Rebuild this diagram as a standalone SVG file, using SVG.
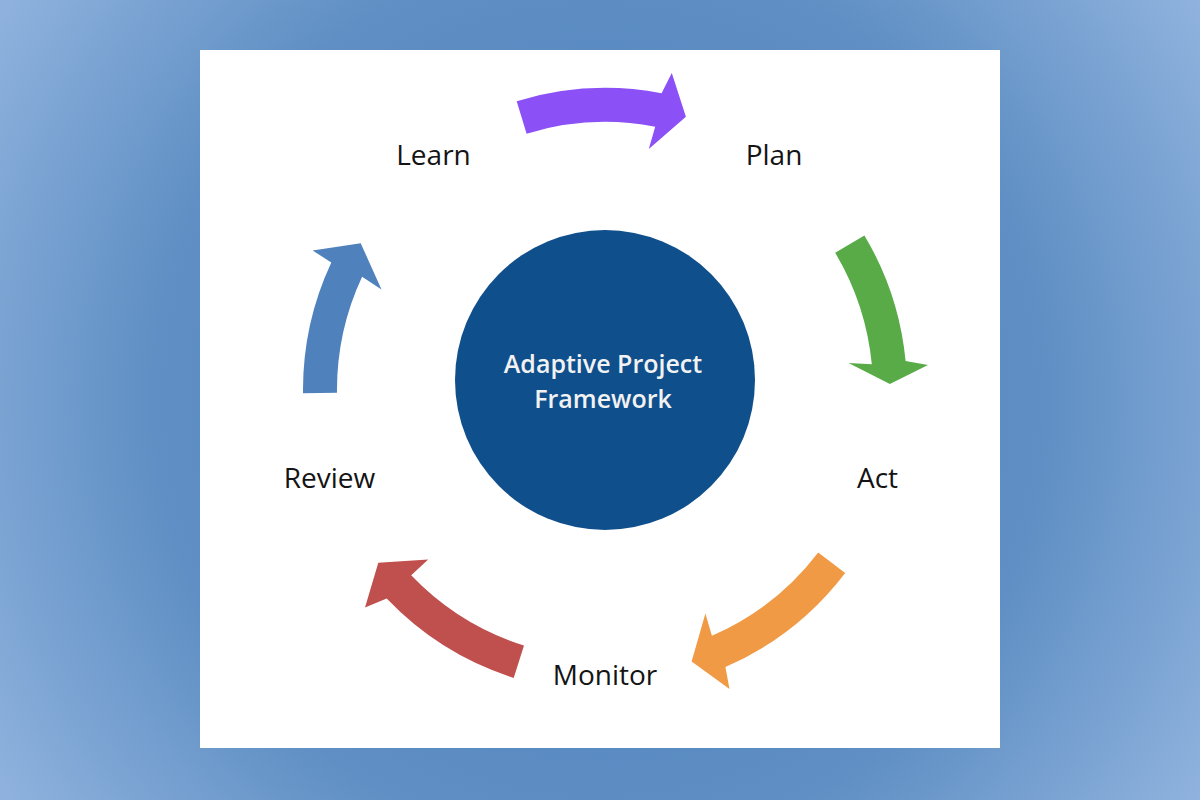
<svg xmlns="http://www.w3.org/2000/svg" width="1200" height="800" viewBox="0 0 1200 800">
  <defs>
    <radialGradient id="bg" gradientUnits="userSpaceOnUse" cx="600" cy="400" r="721">
      <stop offset="0" stop-color="#4a7cb8"/>
      <stop offset="0.62" stop-color="#5f8fc4"/>
      <stop offset="1" stop-color="#90b3de"/>
    </radialGradient>
    <style>
      .lbl { font-family: "Open Sans", "Liberation Sans", sans-serif; font-size: 28px; font-weight: 500; fill: #141414; text-anchor: middle; }
      .ctr { font-family: "Open Sans", "Liberation Sans", sans-serif; font-size: 25px; font-weight: 600; fill: #f2f2f2; text-anchor: middle; }
    </style>
  </defs>
  <rect x="0" y="0" width="1200" height="800" fill="url(#bg)"/>
  <rect x="200" y="50" width="800" height="698" fill="#ffffff"/>

  <g id="connectors">
    <path id="arrow-learn-plan" fill="#8b50f6" d="M516.7,101.2 A302,302 0 0 1 661.6,93.3 L671.8,73.0 L685.9,116.7 L648.8,148.9 L655.2,126.7 A268,268 0 0 0 526.6,133.7 Z"/>
    <path id="arrow-plan-act" fill="#58ab47" d="M864.4,235.4 A302,302 0 0 1 905.6,361.1 L928.0,365.1 L889.9,384.0 L848.5,363.1 L871.8,364.3 A268,268 0 0 0 835.2,252.8 Z"/>
    <path id="arrow-act-monitor" fill="#f09a45" d="M845.2,573.0 A302,302 0 0 1 725.4,667.0 L729.5,689.1 L691.6,661.5 L705.4,613.5 L711.9,635.8 A268,268 0 0 0 818.2,552.4 Z"/>
    <path id="arrow-monitor-review" fill="#c0504d" d="M513.7,677.9 A302,302 0 0 1 386.7,598.6 L365.0,607.6 L378.3,562.7 L428.2,559.6 L411.2,575.2 A268,268 0 0 0 524.0,645.5 Z"/>
    <path id="arrow-review-learn" fill="#4f81bd" d="M303.0,393.2 A302,302 0 0 1 331.3,262.4 L312.6,250.5 L360.7,243.2 L381.5,289.6 L362.1,276.7 A268,268 0 0 0 337.0,392.8 Z"/>
  </g>

  <g id="node-center">
    <circle cx="605" cy="380" r="150" fill="#0f4f8c"/>
    <text class="ctr" x="603" y="373">Adaptive Project</text>
    <text class="ctr" x="603" y="408">Framework</text>
  </g>
  <g id="node-learn"><text class="lbl" x="433.5" y="165">Learn</text></g>
  <g id="node-plan"><text class="lbl" x="774" y="165">Plan</text></g>
  <g id="node-act"><text class="lbl" x="877.5" y="488">Act</text></g>
  <g id="node-monitor"><text class="lbl" x="605" y="685">Monitor</text></g>
  <g id="node-review"><text class="lbl" x="329.5" y="488">Review</text></g>
</svg>
